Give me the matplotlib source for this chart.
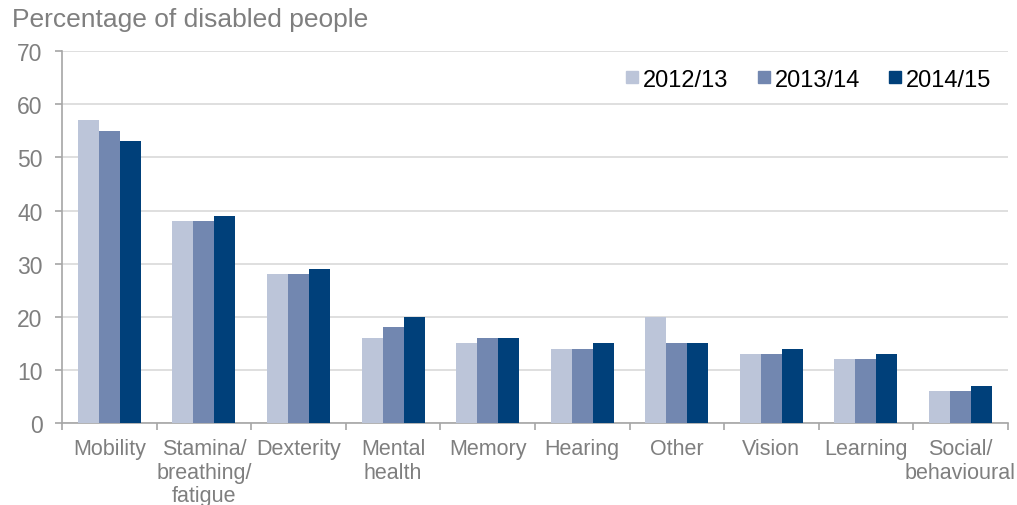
import numpy as np
import matplotlib.pyplot as plt
from matplotlib.lines import Line2D

plt.rcParams['font.family'] = ['Liberation Sans', 'DejaVu Sans']

categories = ['Mobility', 'Stamina/\nbreathing/\nfatigue', 'Dexterity', 'Mental\nhealth',
              'Memory', 'Hearing', 'Other', 'Vision', 'Learning', 'Social/\nbehavioural']
years = ['2012/13', '2013/14', '2014/15']
v_2012 = [57, 38, 28, 16, 15, 14, 20, 13, 12, 6]
v_2013 = [55, 38, 28, 18, 16, 14, 15, 13, 12, 6]
v_2014 = [53, 39, 29, 20, 16, 15, 15, 14, 13, 7]
colors = ['#bcc5d9', '#7287b0', '#00407a']

fig = plt.figure(figsize=(10.17, 5.06), dpi=100)
ax = fig.add_axes([0.061, 0.162, 0.930, 0.735])

x = np.arange(len(categories))
w = 0.222
for i, (vals, c, lab) in enumerate(zip([v_2012, v_2013, v_2014], colors, years)):
    ax.bar(x + (i - 1) * w, vals, w, color=c, label=lab, zorder=3)

ax.set_xlim(-0.5, len(categories) - 0.5)
ax.set_ylim(0, 70)
ax.set_yticks(range(0, 71, 10))
ax.yaxis.grid(True, color='#d9d9d9', lw=1.2, zorder=0)

for s in ['top', 'right']:
    ax.spines[s].set_visible(False)
for s in ['left', 'bottom']:
    ax.spines[s].set_color('#a6a6a6')
    ax.spines[s].set_linewidth(1.2)

ax.set_xticks(x)
ax.set_xticklabels(categories, fontsize=15.5, color='#7f7f7f', linespacing=1.15)
ax.set_xticks(np.arange(-0.5, len(categories), 1), minor=True)
ax.tick_params(axis='x', which='major', length=0, pad=11)
ax.tick_params(axis='x', which='minor', length=5, color='#a6a6a6', width=1.2)
ax.tick_params(axis='y', length=5, color='#a6a6a6', width=1.2, labelsize=16.5,
               labelcolor='#7f7f7f', pad=9)

fig.text(0.012, 0.96, 'Percentage of disabled people', fontsize=19,
         color='#7f7f7f', va='center', ha='left')

handles = [Line2D([], [], marker='s', ls='', markersize=9, color=c) for c in colors]
ax.legend(handles, years, loc='upper right', bbox_to_anchor=(1.005, 1.01), frameon=False,
          ncol=3, fontsize=17, handletextpad=0.0, columnspacing=1.05, handlelength=0.9)

fig.savefig('out.png', dpi=100)
